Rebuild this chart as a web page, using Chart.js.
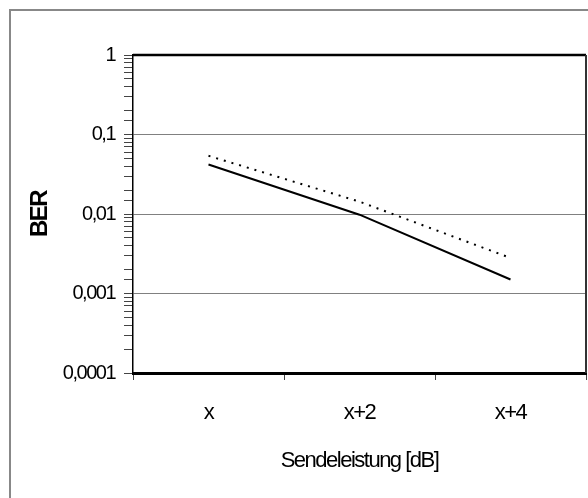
<!DOCTYPE html>
<html>
<head>
<meta charset="utf-8">
<script src="https://cdn.jsdelivr.net/npm/chart.js@4/dist/chart.umd.min.js"></script>
<style>
  html, body { margin: 0; padding: 0; background: #fff; }
  #wrap { width: 588px; height: 498px; }
</style>
</head>
<body>
<div id="wrap"><canvas id="c" width="588" height="498"></canvas></div>
<script>
const categories = ['x', 'x+2', 'x+4'];
const berSolid = [0.042, 0.0098, 0.0015];
const berDotted = [0.054, 0.0143, 0.0028];
const yMin = 0.0001;
const yMax = 1;
const xTitle = 'Sendeleistung [dB]';
const yTitle = 'BER';
const SPACING = '-1.5px';

function isDecade(v) {
  const l = Math.log10(v);
  return Math.abs(l - Math.round(l)) < 1e-6;
}

const spacingPlugin = {
  id: 'spacing',
  beforeUpdate(chart) { chart.ctx.letterSpacing = SPACING; },
  beforeLayout(chart) { chart.ctx.letterSpacing = SPACING; },
  beforeDraw(chart) {
    const ctx = chart.ctx;
    ctx.letterSpacing = SPACING;
    ctx.save();
    ctx.strokeStyle = '#888888';
    ctx.lineWidth = 2;
    ctx.strokeRect(10, 10, 700, 700);
    ctx.restore();
  },
  afterDraw(chart) {
    const ctx = chart.ctx;
    const a = chart.chartArea;
    ctx.save();
    ctx.strokeStyle = '#000';
    ctx.lineWidth = 2.5;
    ctx.beginPath();
    ctx.moveTo(a.left, a.top);
    ctx.lineTo(a.right, a.top);
    ctx.stroke();
    ctx.strokeStyle = '#333';
    ctx.lineWidth = 2;
    ctx.beginPath();
    ctx.moveTo(a.right, a.top);
    ctx.lineTo(a.right, a.bottom);
    ctx.stroke();
    ctx.restore();
  }
};

new Chart(document.getElementById('c'), {
  type: 'line',
  data: {
    labels: categories,
    datasets: [
      {
        label: 'A',
        data: berSolid,
        borderColor: '#000',
        borderWidth: 2,
        pointRadius: 0,
        tension: 0,
        fill: false
      },
      {
        label: 'B',
        data: berDotted,
        borderColor: '#000',
        borderWidth: 2,
        borderDash: [2, 6],
        pointRadius: 0,
        tension: 0,
        fill: false
      }
    ]
  },
  options: {
    responsive: false,
    animation: false,
    devicePixelRatio: 1,
    layout: { padding: { top: 55, right: 2, bottom: 0, left: 10 } },
    plugins: {
      legend: { display: false },
      tooltip: { enabled: false }
    },
    scales: {
      x: {
        type: 'category',
        offset: true,
        afterFit(s) { s.height = 125; },
        grid: {
          offset: true,
          drawOnChartArea: false,
          drawTicks: true,
          tickLength: 7,
          tickColor: '#444',
          tickWidth: 1
        },
        border: { display: true, color: '#000', width: 3 },
        ticks: {
          color: '#000',
          padding: 20,
          font: { family: 'Liberation Sans, Arial, sans-serif', size: 22 }
        },
        title: {
          display: true,
          text: xTitle,
          color: '#000',
          font: { family: 'Liberation Sans, Arial, sans-serif', size: 22 },
          padding: { top: 0, bottom: 24 }
        }
      },
      y: {
        type: 'logarithmic',
        min: yMin,
        max: yMax,
        afterFit(s) { s.width = 123; },
        grid: {
          color: ctx => (ctx.tick && isDecade(ctx.tick.value) && ctx.tick.value < yMax && ctx.tick.value > yMin) ? '#808080' : 'rgba(0,0,0,0)',
          lineWidth: 1,
          drawTicks: true,
          tickLength: 9,
          tickColor: '#444',
          tickWidth: 1
        },
        border: { display: true, color: '#000', width: 1.5 },
        ticks: {
          autoSkip: false,
          color: '#000',
          padding: 9,
          font: { family: 'Liberation Sans, Arial, sans-serif', size: 20 },
          callback(v) {
            return isDecade(v) ? String(Number(v.toPrecision(6))).replace('.', ',') : '';
          }
        },
        title: {
          display: true,
          text: yTitle,
          color: '#000',
          font: { family: 'Liberation Sans, Arial, sans-serif', size: 24, weight: 'bold' },
          padding: { top: 16, bottom: 0 }
        }
      }
    }
  },
  plugins: [spacingPlugin]
});
</script>
</body>
</html>
